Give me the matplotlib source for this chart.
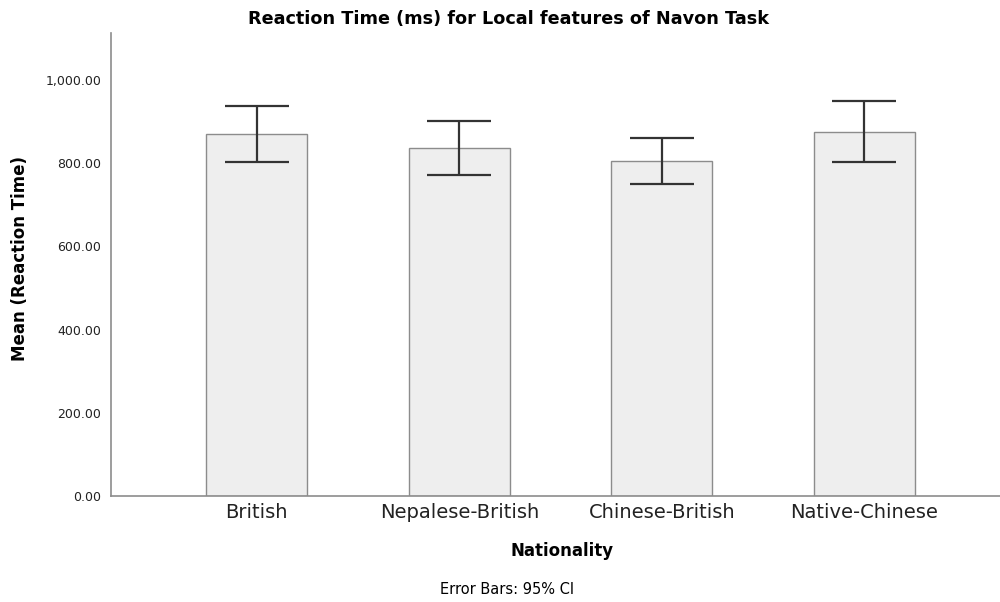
import matplotlib
matplotlib.use("Agg")
import matplotlib.pyplot as plt
import numpy as np
from matplotlib.ticker import FuncFormatter

# mean reaction time per group with 95% CI bounds
groups = ['British', 'Nepalese-British', 'Chinese-British', 'Native-Chinese']
means = [870, 836, 806, 875]
ci_low = [802, 771, 750, 803]
ci_high = [938, 901, 861, 949]
yticks = [0, 200, 400, 600, 800, 1000]

fig = plt.figure(figsize=(10, 6.02), dpi=100)
ax = fig.add_axes([0.111, 0.176, 0.889, 0.769])

x = np.arange(len(groups))
m = np.array(means)
err = [m - np.array(ci_low), np.array(ci_high) - m]

ax.bar(x, means, width=0.5, color='#eeeeee', edgecolor='#8c8c8c', linewidth=1.0, zorder=2)
ax.errorbar(x, means, yerr=err, fmt='none', ecolor='#333333', elinewidth=1.6,
            capsize=23, capthick=1.6, zorder=3)

ax.set_xlim(-0.72, 3.67)
ax.set_ylim(0, 1113)
ax.set_yticks(yticks)
ax.yaxis.set_major_formatter(FuncFormatter(lambda v, p: f'{v:,.2f}'))
ax.set_xticks(x)
ax.set_xticklabels(groups, fontsize=14)
ax.tick_params(axis='y', labelsize=9, length=0, pad=7, labelcolor='#222222')
ax.tick_params(axis='x', length=0, pad=5, labelcolor='#222222')

for s in ['top', 'right']:
    ax.spines[s].set_visible(False)
for s in ['left', 'bottom']:
    ax.spines[s].set_color('#8c8c8c')
    ax.spines[s].set_linewidth(1.2)

fig.text(0.508, 0.968, 'Reaction Time (ms) for Local features of Navon Task',
         ha='center', va='center', fontsize=12.7, fontweight='bold')
fig.text(0.020, 0.57, 'Mean (Reaction Time)', rotation=90, ha='center', va='center',
         fontsize=12, fontweight='bold')
fig.text(0.562, 0.085, 'Nationality', ha='center', va='center', fontsize=12, fontweight='bold')
fig.text(0.507, 0.021, 'Error Bars: 95% CI', ha='center', va='center', fontsize=10.5)

fig.savefig('out.png', dpi=100)
